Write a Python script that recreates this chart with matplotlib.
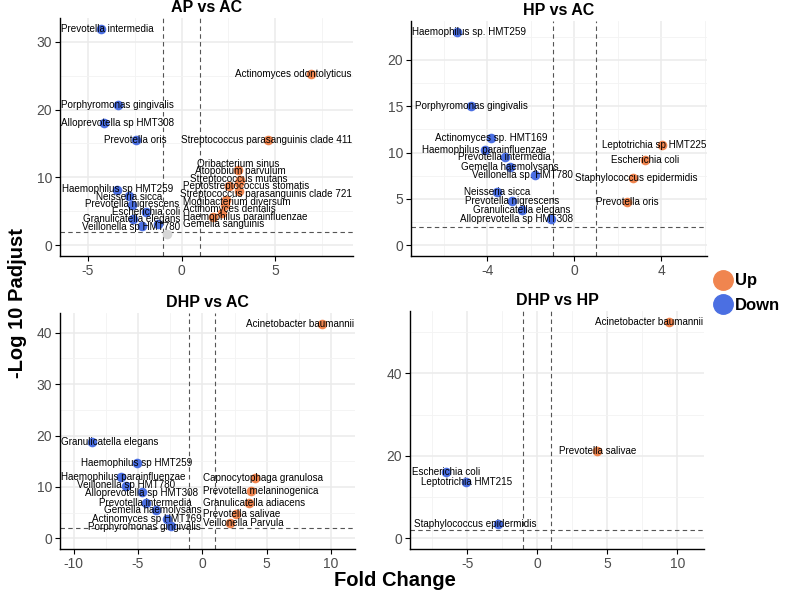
import numpy as np
import matplotlib
matplotlib.use('Agg')
import matplotlib.pyplot as plt
from matplotlib.lines import Line2D

plt.rcParams['font.family'] = ['Liberation Sans', 'DejaVu Sans']
plt.rcParams['axes.unicode_minus'] = False

UP = '#F0854F'
DOWN = '#4B6FE2'
NS = '#D6D6D6'

# AP vs AC
ap_names = ['Prevotella intermedia', 'Actinomyces odontolyticus', 'Porphyromonas gingivalis',
            'Alloprevotella sp HMT308', 'Prevotella oris', 'Streptococcus parasanguinis clade 411',
            'Oribacterium sinus', 'Atopobium parvulum', 'Streptococcus mutans',
            'Peptostreptococcus stomatis', 'Streptococcus parasanguinis clade 721',
            'Mogibacterium diversum', 'Actinomyces dentalis', 'Haemophilus parainfluenzae',
            'Gemella sanguinis', 'Haemophilus sp HMT259', 'Neisseria sicca', 'Prevotella nigrescens',
            'Escherichia coli', 'Granulicatella elegans', 'Veillonella sp HMT780', '', '']
ap_fc = [-4.29, 6.91, -3.40, -4.12, -2.45, 4.63, 3.00, 3.13, 3.05, 2.52, 3.05, 2.36, 2.30,
         2.13, 1.68, -3.42, -2.80, -2.61, -1.91, -2.59, -2.10, -1.24, -0.77]
ap_p = [31.9, 25.3, 20.7, 18.05, 15.5, 15.5, 11.1, 9.6, 9.1, 8.73, 8.0, 6.66, 5.9,
        4.7, 4.1, 8.14, 7.3, 5.9, 4.9, 3.85, 2.86, 3.06, 1.58]

# HP vs AC
hp_names = ['Haemophilus sp. HMT259', 'Porphyromonas gingivalis', 'Actinomyces sp. HMT169',
            'Haemophilus parainfluenzae', 'Prevotella intermedia', 'Gemella haemolysans',
            'Veillonella sp. HMT780', 'Neisseria sicca', 'Prevotella nigrescens',
            'Granulicatella elegans', 'Alloprevotella sp HMT308', 'Leptotrichia sp HMT225',
            'Escherichia coli', 'Staphylococcus epidermidis', 'Prevotella oris']
hp_fc = [-5.41, -4.76, -3.84, -4.13, -3.21, -2.98, -1.80, -3.55, -2.87, -2.41, -1.06,
         4.04, 3.24, 2.69, 2.43]
hp_p = [23.04, 15.0, 11.55, 10.29, 9.53, 8.44, 7.6, 5.76, 4.75, 3.77, 2.83,
        10.83, 9.17, 7.21, 4.64]

# DHP vs AC
dac_names = ['Acinetobacter baumannii', 'Granulicatella elegans', 'Haemophilus sp HMT259',
             'Haemophilus parainfluenzae', 'Veillonella sp HMT780', 'Alloprevotella sp HMT308',
             'Prevotella intermedia', 'Gemella haemolysans', 'Actinomyces sp HMT169',
             'Porphyromonas gingivalis', 'Capnocytophaga granulosa', 'Prevotella melaninogenica',
             'Granulicatella adiacens', 'Prevotella salivae', 'Veillonella Parvula']
dac_fc = [9.32, -8.54, -5.10, -6.32, -5.93, -4.71, -4.40, -3.60, -2.78, -2.47,
          4.12, 3.81, 3.63, 2.65, 2.16]
dac_p = [41.76, 18.7, 14.7, 12.0, 10.25, 8.95, 6.87, 5.5, 3.75, 2.3,
         11.68, 9.14, 6.8, 4.79, 2.96]

# DHP vs HP
dhp_names = ['Acinetobacter baumannii', 'Prevotella salivae', 'Escherichia coli',
             'Leptotrichia HMT215', 'Staphylococcus epidermidis']
dhp_fc = [9.43, 4.29, -6.52, -5.07, -2.83]
dhp_p = [52.5, 21.24, 16.0, 13.57, 3.47]

fig = plt.figure(figsize=(7.85, 5.97), dpi=100)
W, H = 785, 597


def box(l, r, t, b):
    return [l / W, 1 - b / H, (r - l) / W, (b - t) / H]


panels = [
    ('AP vs AC', ap_names, ap_fc, ap_p, box(60, 353, 18, 256), (-6.47, 9.13),
     [-5, 0, 5], [-2.5, 2.5, 7.5], [0, 10, 20, 30], [5, 15, 25]),
    ('HP vs AC', hp_names, hp_fc, hp_p, box(411, 707, 21, 256), (-7.52, 6.11),
     [-4, 0, 4], [-6, -2, 2, 6], [0, 5, 10, 15, 20], [2.5, 7.5, 12.5, 17.5, 22.5]),
    ('DHP vs AC', dac_names, dac_fc, dac_p, box(60, 355, 313, 549), (-11.05, 11.85),
     [-10, -5, 0, 5, 10], [-7.5, -2.5, 2.5, 7.5], [0, 10, 20, 30, 40], [5, 15, 25, 35]),
    ('DHP vs HP', dhp_names, dhp_fc, dhp_p, box(410, 704, 311, 549), (-9.1, 11.9),
     [-5, 0, 5, 10], [-7.5, -2.5, 2.5, 7.5], [0, 20, 40], [10, 30, 50]),
]


def repel(ax, texts, px, py, sep=7.6):
    # crude ggrepel: labels pulled to their points, stacked apart vertically,
    # down labels kept left of x = 0 and up labels right of it
    fig.canvas.draw()
    r = fig.canvas.get_renderer()
    bb = ax.get_window_extent(r)
    pts = ax.transData.transform(np.column_stack([px, py]))
    zero = ax.transData.transform((0, 0))[0]
    w = np.array([t.get_window_extent(r).width for t in texts]) + 2
    side = np.sign(px)
    pos = pts.copy()
    n = len(texts)
    for it in range(700):
        if it < 500:
            pos[:, 1] += 0.05 * (pts[:, 1] - pos[:, 1])
        for i in range(n):
            for j in range(i + 1, n):
                dy = pos[j, 1] - pos[i, 1]
                ox = (w[i] + w[j]) / 2 - abs(pos[j, 0] - pos[i, 0])
                oy = sep - abs(dy)
                if ox > 0 and oy > 0:
                    s = np.sign(dy) if dy != 0 else (1 if pts[j, 1] >= pts[i, 1] else -1)
                    pos[i, 1] -= s * oy / 2
                    pos[j, 1] += s * oy / 2
        pos[:, 0] = np.where(side < 0, np.minimum(pos[:, 0], zero - w / 2),
                             np.maximum(pos[:, 0], zero + w / 2))
        pos[:, 0] = np.clip(pos[:, 0], bb.x0 + w / 2, bb.x1 - w / 2)
        pos[:, 1] = np.clip(pos[:, 1], bb.y0 + sep / 2, bb.y1 - sep / 2)
    data = ax.transData.inverted().transform(pos)
    for t, (x, y) in zip(texts, data):
        t.set_position((x, y))


for title, names, fc, p, rect, xlim, xt, xmt, yt, ymt in panels:
    ax = fig.add_axes(rect)
    fc = np.array(fc)
    p = np.array(p)
    up = (fc > 1) & (p > 2)
    down = (fc < -1) & (p > 2)
    ns = ~(up | down)
    ax.scatter(fc[ns], p[ns], s=48, color=NS, lw=0, zorder=3)
    ax.scatter(fc[up], p[up], s=48, color=UP, lw=0, zorder=3)
    ax.scatter(fc[down], p[down], s=48, color=DOWN, lw=0, zorder=3)
    for v in (-1, 1):
        ax.axvline(v, color='#555555', lw=0.8, ls=(0, (4, 3)), zorder=2)
    ax.axhline(2, color='#555555', lw=0.8, ls=(0, (4, 3)), zorder=2)
    ax.set_xticks(xt)
    ax.set_xticks(xmt, minor=True)
    ax.set_yticks(yt)
    ax.set_yticks(ymt, minor=True)
    ax.set_xlim(*xlim)
    ymax = p.max()
    ax.set_ylim(-0.05 * ymax, 1.05 * ymax)
    ax.grid(which='major', color='#EBEBEB', lw=1.1)
    ax.grid(which='minor', color='#F3F3F3', lw=0.6)
    ax.set_axisbelow(True)
    for s in ('top', 'right'):
        ax.spines[s].set_visible(False)
    for s in ('left', 'bottom'):
        ax.spines[s].set_linewidth(1.0)
    ax.tick_params(which='major', length=3.5, width=0.8, color='black',
                   labelcolor='#4D4D4D', labelsize=10, pad=2)
    ax.tick_params(which='minor', length=0)
    ax.set_title(title, fontsize=11.5, fontweight='bold', pad=4)

    keep = [i for i, nm in enumerate(names) if nm]
    texts = [ax.text(fc[i], p[i], names[i], fontsize=7.1, ha='center', va='center',
                     zorder=4) for i in keep]
    repel(ax, texts, fc[keep], p[keep])

fig.text(18 / W, 1 - 303 / H, '-Log 10 Padjust', rotation=90, fontsize=14.5,
         fontweight='bold', ha='center', va='center')
fig.text(395 / W, 1 - 581 / H, 'Fold Change', fontsize=14.5, fontweight='bold',
         ha='center', va='center')

handles = [Line2D([], [], marker='o', ls='', ms=14, color=UP),
           Line2D([], [], marker='o', ls='', ms=14, color=DOWN)]
fig.legend(handles, ['Up', 'Down'], loc='center left', bbox_to_anchor=(700 / W, 1 - 293 / H),
           frameon=False, handletextpad=0.0, labelspacing=0.55, handlelength=1.4,
           borderpad=0.2, prop={'weight': 'bold', 'size': 12})

fig.savefig('out.png', dpi=100)
